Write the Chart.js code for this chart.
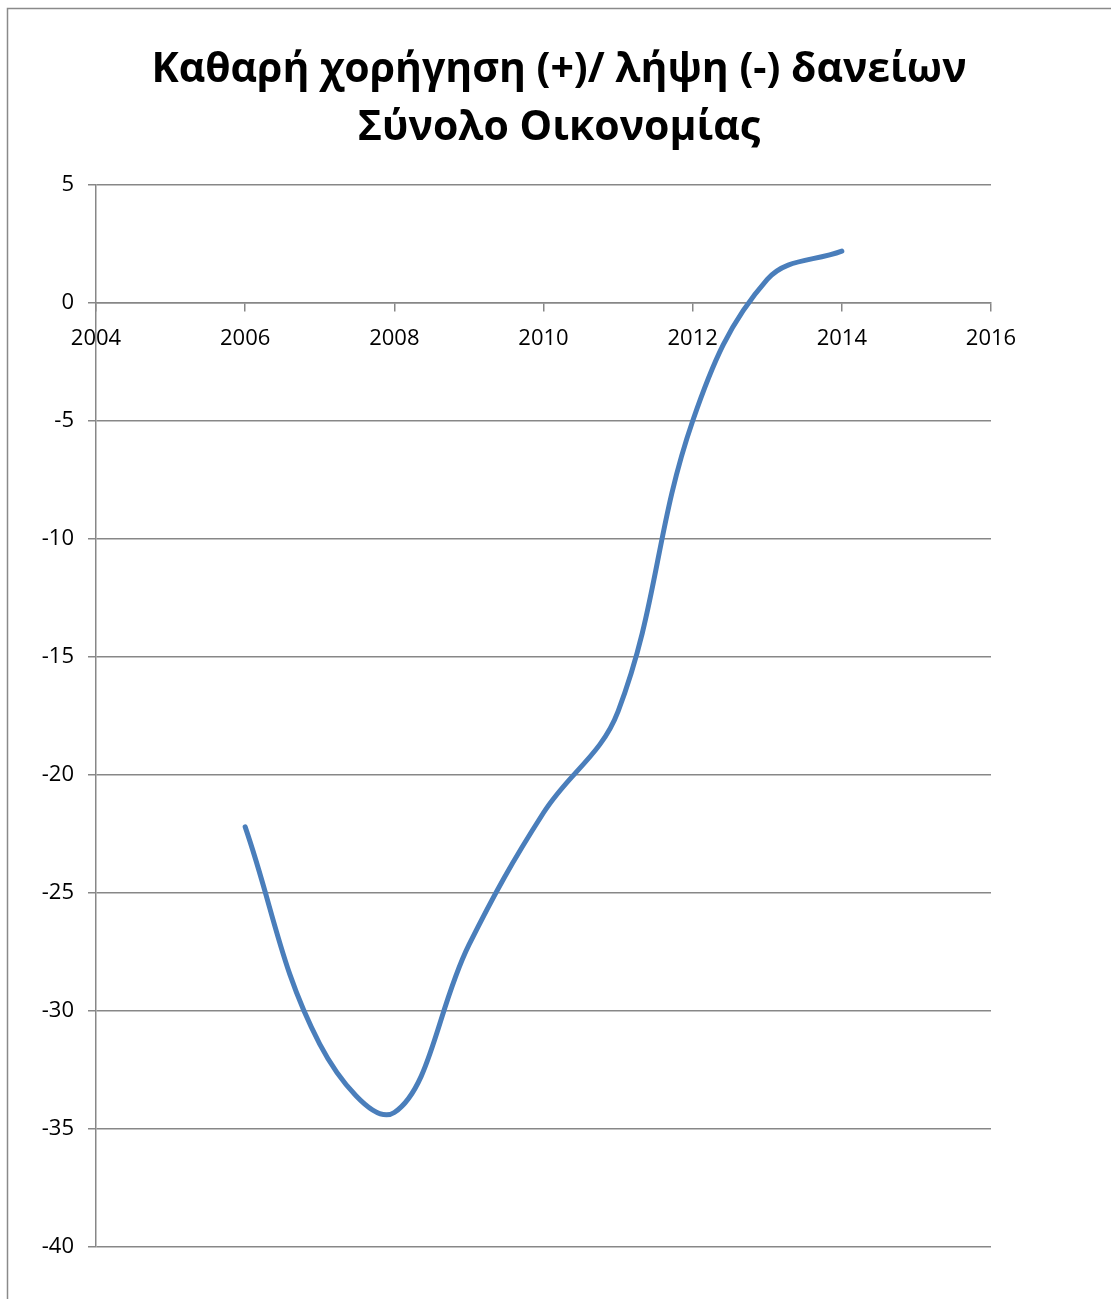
<!DOCTYPE html>
<html>
<head>
<meta charset="utf-8">
<script src="https://cdn.jsdelivr.net/npm/chart.js@4.4.1/dist/chart.umd.min.js"></script>
<style>
html,body{margin:0;padding:0;background:#fff;}
#wrap{position:relative;width:1111px;height:1299px;}
canvas{display:block;}
</style>
</head>
<body>
<div id="wrap"><canvas id="c" width="1111" height="1299"></canvas></div>
<script>
const titleLines = ["Καθαρή χορήγηση (+)/ λήψη (-) δανείων", "Σύνολο Οικονομίας"];
const years = [2006, 2007, 2008, 2009, 2010, 2011, 2012, 2013, 2014];
const values = [-22.2, -31.4, -34.3, -27.2, -21.6, -17.3, -5.0, 1.0, 2.2];
const xTicks = [2004, 2006, 2008, 2010, 2012, 2014, 2016];
const yTicks = [5, 0, -5, -10, -15, -20, -25, -30, -35, -40];

const FONT = '"Open Sans", "Noto Sans", sans-serif';

const frame = {
  id: 'frame',
  beforeDraw(chart) {
    const ctx = chart.ctx;
    ctx.save();
    ctx.fillStyle = '#fff';
    ctx.fillRect(0, 0, chart.width, chart.height);
    ctx.strokeStyle = '#8a8a8a';
    ctx.lineWidth = 1.5;
    ctx.strokeRect(7.5, 8.5, 2000, 2000);
    ctx.restore();
  },
  afterDraw(chart) {
    const ctx = chart.ctx;
    ctx.save();
    ctx.fillStyle = '#000';
    ctx.font = 'bold 41px ' + FONT;
    ctx.textAlign = 'center';
    ctx.textBaseline = 'middle';
    ctx.fillText(titleLines[0], 559, 70);
    ctx.fillText(titleLines[1], 559, 128);
    ctx.restore();
  }
};

new Chart(document.getElementById('c'), {
  type: 'scatter',
  data: {
    datasets: [{
      data: years.map((y, i) => ({x: y, y: values[i]})),
      showLine: true,
      borderColor: '#4A7EBB',
      borderWidth: 5,
      pointRadius: 0,
      pointHoverRadius: 0,
      tension: 0.38,
      borderCapStyle: 'round',
      borderJoinStyle: 'round'
    }]
  },
  options: {
    responsive: false,
    animation: false,
    devicePixelRatio: 1,
    layout: {padding: {top: 185, left: 0, right: 120, bottom: 52}},
    plugins: {
      legend: {display: false},
      tooltip: {enabled: false},
      title: {display: false}
    },
    scales: {
      x: {
        type: 'linear',
        position: {y: 0},
        min: 2004, max: 2016,
        afterBuildTicks: s => { s.ticks = xTicks.map(v => ({value: v})); },
        ticks: {color: '#000', font: {family: FONT, size: 22}, padding: 15, maxRotation: 0,
          callback: v => String(v)},
        grid: {display: true, drawOnChartArea: false, drawTicks: true, tickLength: 8, color: '#878787', lineWidth: 1.5},
        border: {display: true, color: '#878787', width: 1.5}
      },
      y: {
        min: -40, max: 5,
        afterBuildTicks: s => { s.ticks = yTicks.map(v => ({value: v})); },
        afterFit: s => { s.width = 96; },
        ticks: {color: '#000', font: {family: FONT, size: 22}, padding: 14,
          callback: v => String(v)},
        grid: {color: '#878787', lineWidth: 1.5, tickLength: 8, drawTicks: true},
        border: {display: true, color: '#878787', width: 1.5}
      }
    }
  },
  plugins: [frame]
});
</script>
</body>
</html>
